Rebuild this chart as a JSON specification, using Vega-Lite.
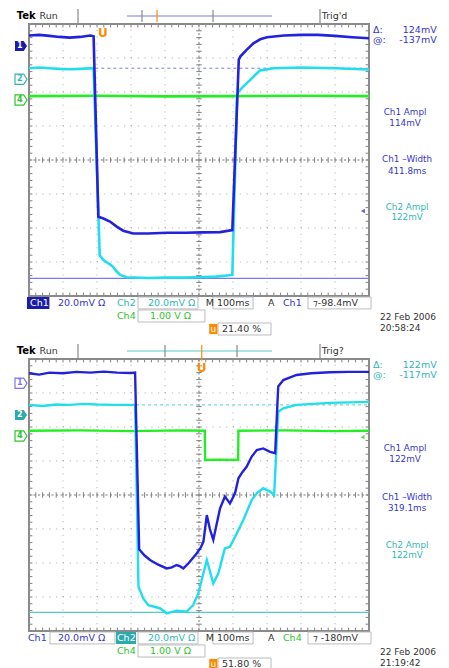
{
"$schema":"https://vega.github.io/schema/vega-lite/v6.json",
"background":"#ffffff",
"padding":0,
"spacing":1,
"bounds":"flush",
"config":{"view":{"stroke":null},"text":{"font":"DejaVu Sans","fontSize":9.5,"baseline":"middle"}},
"datasets":{
"xt":[{"v":0},{"v":0.2},{"v":0.4},{"v":0.6},{"v":0.8},{"v":1},{"v":1.2},{"v":1.4},{"v":1.6},{"v":1.8},{"v":2},{"v":2.2},{"v":2.4},{"v":2.6},{"v":2.8},{"v":3},{"v":3.2},{"v":3.4},{"v":3.6},{"v":3.8},{"v":4},{"v":4.2},{"v":4.4},{"v":4.6},{"v":4.8},{"v":5},{"v":5.2},{"v":5.4},{"v":5.6},{"v":5.8},{"v":6},{"v":6.2},{"v":6.4},{"v":6.6},{"v":6.8},{"v":7},{"v":7.2},{"v":7.4},{"v":7.6},{"v":7.8},{"v":8},{"v":8.2},{"v":8.4},{"v":8.6},{"v":8.8},{"v":9},{"v":9.2},{"v":9.4},{"v":9.6},{"v":9.8},{"v":10}],
"yt":[{"v":-4},{"v":-3.8},{"v":-3.6},{"v":-3.4},{"v":-3.2},{"v":-3},{"v":-2.8},{"v":-2.6},{"v":-2.4},{"v":-2.2},{"v":-2},{"v":-1.8},{"v":-1.6},{"v":-1.4},{"v":-1.2},{"v":-1},{"v":-0.8},{"v":-0.6},{"v":-0.4},{"v":-0.2},{"v":0},{"v":0.2},{"v":0.4},{"v":0.6},{"v":0.8},{"v":1},{"v":1.2},{"v":1.4},{"v":1.6},{"v":1.8},{"v":2},{"v":2.2},{"v":2.4},{"v":2.6},{"v":2.8},{"v":3},{"v":3.2},{"v":3.4},{"v":3.6},{"v":3.8},{"v":4}],
"gx":[{"v":1},{"v":2},{"v":3},{"v":4},{"v":6},{"v":7},{"v":8},{"v":9}],
"gy":[{"v":-3},{"v":-2},{"v":-1},{"v":1},{"v":2},{"v":3}],
"trA":[
{"k":"ch4","x":0,"y":1.88},{"k":"ch4","x":2,"y":1.89},{"k":"ch4","x":4,"y":1.87},{"k":"ch4","x":6,"y":1.88},{"k":"ch4","x":8,"y":1.89},{"k":"ch4","x":10,"y":1.88},
{"k":"ch2","x":0,"y":2.7},{"k":"ch2","x":0.3,"y":2.72},{"k":"ch2","x":0.6,"y":2.7},{"k":"ch2","x":0.9,"y":2.68},{"k":"ch2","x":1.2,"y":2.67},{"k":"ch2","x":1.5,"y":2.68},{"k":"ch2","x":1.9,"y":2.7},{"k":"ch2","x":2.08,"y":-2.8},{"k":"ch2","x":2.19,"y":-2.94},{"k":"ch2","x":2.3,"y":-3.02},{"k":"ch2","x":2.4,"y":-3.08},{"k":"ch2","x":2.48,"y":-3.15},{"k":"ch2","x":2.58,"y":-3.28},{"k":"ch2","x":2.68,"y":-3.38},{"k":"ch2","x":2.87,"y":-3.45},{"k":"ch2","x":3.5,"y":-3.47},{"k":"ch2","x":4.0,"y":-3.46},{"k":"ch2","x":4.5,"y":-3.46},{"k":"ch2","x":5.0,"y":-3.45},{"k":"ch2","x":5.5,"y":-3.43},{"k":"ch2","x":5.98,"y":-3.38},{"k":"ch2","x":6.12,"y":1.9},{"k":"ch2","x":6.16,"y":2.01},{"k":"ch2","x":6.3,"y":2.16},{"k":"ch2","x":6.5,"y":2.35},{"k":"ch2","x":6.65,"y":2.5},{"k":"ch2","x":6.79,"y":2.63},{"k":"ch2","x":7.2,"y":2.7},{"k":"ch2","x":8,"y":2.72},{"k":"ch2","x":9,"y":2.7},{"k":"ch2","x":10,"y":2.66},
{"k":"ch1","x":0,"y":3.66},{"k":"ch1","x":0.3,"y":3.68},{"k":"ch1","x":0.6,"y":3.65},{"k":"ch1","x":0.9,"y":3.62},{"k":"ch1","x":1.2,"y":3.6},{"k":"ch1","x":1.5,"y":3.62},{"k":"ch1","x":1.8,"y":3.66},{"k":"ch1","x":1.9,"y":3.64},{"k":"ch1","x":2.04,"y":-1.67},{"k":"ch1","x":2.19,"y":-1.72},{"k":"ch1","x":2.38,"y":-1.81},{"k":"ch1","x":2.58,"y":-1.96},{"k":"ch1","x":2.77,"y":-2.08},{"k":"ch1","x":3.07,"y":-2.16},{"k":"ch1","x":3.5,"y":-2.16},{"k":"ch1","x":4.05,"y":-2.14},{"k":"ch1","x":4.6,"y":-2.14},{"k":"ch1","x":5.1,"y":-2.13},{"k":"ch1","x":5.62,"y":-2.12},{"k":"ch1","x":5.98,"y":-2.06},{"k":"ch1","x":6.17,"y":2.95},{"k":"ch1","x":6.22,"y":3.05},{"k":"ch1","x":6.4,"y":3.24},{"k":"ch1","x":6.6,"y":3.43},{"k":"ch1","x":6.8,"y":3.55},{"k":"ch1","x":7.0,"y":3.61},{"k":"ch1","x":7.5,"y":3.66},{"k":"ch1","x":8.0,"y":3.68},{"k":"ch1","x":8.5,"y":3.68},{"k":"ch1","x":9.0,"y":3.65},{"k":"ch1","x":9.5,"y":3.61},{"k":"ch1","x":10,"y":3.58}],
"trB":[
{"k":"ch4","x":0,"y":1.89},{"k":"ch4","x":1.5,"y":1.9},{"k":"ch4","x":3,"y":1.88},{"k":"ch4","x":4.5,"y":1.9},{"k":"ch4","x":5.17,"y":1.89},{"k":"ch4","x":5.18,"y":1.03},{"k":"ch4","x":5.6,"y":1.04},{"k":"ch4","x":6.15,"y":1.03},{"k":"ch4","x":6.16,"y":1.89},{"k":"ch4","x":7.5,"y":1.9},{"k":"ch4","x":9,"y":1.88},{"k":"ch4","x":10,"y":1.89},
{"k":"ch2","x":0,"y":2.65},{"k":"ch2","x":0.4,"y":2.62},{"k":"ch2","x":0.8,"y":2.66},{"k":"ch2","x":1.2,"y":2.65},{"k":"ch2","x":1.6,"y":2.68},{"k":"ch2","x":2.0,"y":2.66},{"k":"ch2","x":2.5,"y":2.65},{"k":"ch2","x":3.12,"y":2.65},{"k":"ch2","x":3.22,"y":-2.7},{"k":"ch2","x":3.36,"y":-3.04},{"k":"ch2","x":3.51,"y":-3.24},{"k":"ch2","x":3.85,"y":-3.33},{"k":"ch2","x":4.05,"y":-3.48},{"k":"ch2","x":4.34,"y":-3.4},{"k":"ch2","x":4.64,"y":-3.43},{"k":"ch2","x":4.83,"y":-3.24},{"k":"ch2","x":4.98,"y":-2.89},{"k":"ch2","x":5.08,"y":-2.5},{"k":"ch2","x":5.23,"y":-1.91},{"k":"ch2","x":5.42,"y":-2.6},{"k":"ch2","x":5.57,"y":-2.3},{"k":"ch2","x":5.76,"y":-1.57},{"k":"ch2","x":5.91,"y":-1.52},{"k":"ch2","x":6.11,"y":-1.13},{"k":"ch2","x":6.3,"y":-0.74},{"k":"ch2","x":6.55,"y":-0.15},{"k":"ch2","x":6.7,"y":0.05},{"k":"ch2","x":6.89,"y":0.2},{"k":"ch2","x":7.09,"y":0.1},{"k":"ch2","x":7.21,"y":0.0},{"k":"ch2","x":7.33,"y":2.45},{"k":"ch2","x":7.48,"y":2.55},{"k":"ch2","x":7.87,"y":2.65},{"k":"ch2","x":8.85,"y":2.71},{"k":"ch2","x":10,"y":2.74},
{"k":"ch1","x":0,"y":3.58},{"k":"ch1","x":0.3,"y":3.54},{"k":"ch1","x":0.6,"y":3.6},{"k":"ch1","x":1.0,"y":3.58},{"k":"ch1","x":1.4,"y":3.62},{"k":"ch1","x":1.8,"y":3.6},{"k":"ch1","x":2.2,"y":3.63},{"k":"ch1","x":2.6,"y":3.6},{"k":"ch1","x":3.0,"y":3.59},{"k":"ch1","x":3.12,"y":3.6},{"k":"ch1","x":3.24,"y":-1.6},{"k":"ch1","x":3.4,"y":-1.78},{"k":"ch1","x":3.56,"y":-1.91},{"k":"ch1","x":3.8,"y":-2.05},{"k":"ch1","x":4.05,"y":-2.16},{"k":"ch1","x":4.2,"y":-2.13},{"k":"ch1","x":4.34,"y":-2.06},{"k":"ch1","x":4.45,"y":-2.1},{"k":"ch1","x":4.54,"y":-2.16},{"k":"ch1","x":4.7,"y":-2.0},{"k":"ch1","x":4.93,"y":-1.72},{"k":"ch1","x":5.05,"y":-1.55},{"k":"ch1","x":5.13,"y":-1.37},{"k":"ch1","x":5.23,"y":-0.59},{"k":"ch1","x":5.32,"y":-1.0},{"k":"ch1","x":5.42,"y":-1.32},{"k":"ch1","x":5.52,"y":-0.85},{"k":"ch1","x":5.62,"y":-0.39},{"k":"ch1","x":5.76,"y":-0.05},{"k":"ch1","x":5.84,"y":-0.15},{"k":"ch1","x":5.91,"y":-0.25},{"k":"ch1","x":6.06,"y":0.05},{"k":"ch1","x":6.16,"y":0.49},{"k":"ch1","x":6.28,"y":0.68},{"k":"ch1","x":6.4,"y":0.83},{"k":"ch1","x":6.55,"y":1.13},{"k":"ch1","x":6.7,"y":1.32},{"k":"ch1","x":6.89,"y":1.37},{"k":"ch1","x":7.09,"y":1.27},{"k":"ch1","x":7.24,"y":1.23},{"k":"ch1","x":7.33,"y":3.19},{"k":"ch1","x":7.48,"y":3.38},{"k":"ch1","x":7.87,"y":3.53},{"k":"ch1","x":8.3,"y":3.58},{"k":"ch1","x":8.85,"y":3.61},{"k":"ch1","x":9.4,"y":3.62},{"k":"ch1","x":10,"y":3.62}],
"curA":[{"x":1.95,"x2":10,"y":2.7,"y2":2.7,"k":"cur1"}],
"curB":[{"x":3.15,"x2":10,"y":2.65,"y2":2.65,"k":"cur2"}],
"segA":[{"x":0,"x2":10,"y":-3.48,"y2":-3.48,"k":"cur1"},{"x":2.882,"x2":7.147,"y":4.235,"y2":4.235,"k":"cur1"},{"x":3.324,"x2":3.324,"y":4.41,"y2":4.06,"k":"gray"},{"x":5.412,"x2":5.412,"y":4.41,"y2":4.06,"k":"gray"},{"x":1.441,"x2":1.441,"y":4.44,"y2":4.03,"k":"gray"},{"x":8.559,"x2":8.559,"y":4.44,"y2":4.03,"k":"gray"},{"x":3.765,"x2":3.765,"y":4.41,"y2":4.06,"k":"org"}],
"segB":[{"x":0,"x2":10,"y":-3.45,"y2":-3.45,"k":"cur2"},{"x":2.882,"x2":7.147,"y":4.235,"y2":4.235,"k":"cur2"},{"x":4.0,"x2":4.0,"y":4.41,"y2":4.06,"k":"gray"},{"x":6.118,"x2":6.118,"y":4.41,"y2":4.06,"k":"gray"},{"x":1.441,"x2":1.441,"y":4.44,"y2":4.03,"k":"gray"},{"x":8.559,"x2":8.559,"y":4.44,"y2":4.03,"k":"gray"},{"x":5.08,"x2":5.08,"y":4.41,"y2":3.95,"k":"org"}],
"tinyA":[{"x":9.82,"y":-1.5,"k":"ch1"}],
"tinyB":[{"x":9.81,"y":1.7,"k":"c4t"}],
"boxA":[{"x":-0.06,"x2":0.6,"y":-4.03,"y2":-4.38,"k":"c1f","f":"y"},{"x":3.206,"x2":4.97,"y":-4.03,"y2":-4.38,"k":"lg","f":"n"},{"x":5.41,"x2":6.59,"y":-4.03,"y2":-4.38,"k":"lg","f":"n"},{"x":8.206,"x2":10.06,"y":-4.03,"y2":-4.38,"k":"lg","f":"n"},{"x":3.206,"x2":5.176,"y":-4.41,"y2":-4.765,"k":"lg","f":"n"},{"x":5.559,"x2":7.118,"y":-4.794,"y2":-5.147,"k":"lg","f":"n"},{"x":5.3,"x2":5.54,"y":-4.82,"y2":-5.12,"k":"org","f":"y"}],
"boxB":[{"x":0.618,"x2":2.53,"y":-4.03,"y2":-4.38,"k":"lg","f":"n"},{"x":2.56,"x2":3.147,"y":-4.03,"y2":-4.38,"k":"c2f","f":"y"},{"x":3.206,"x2":4.97,"y":-4.03,"y2":-4.38,"k":"lg","f":"n"},{"x":5.41,"x2":6.59,"y":-4.03,"y2":-4.38,"k":"lg","f":"n"},{"x":8.206,"x2":10.06,"y":-4.03,"y2":-4.38,"k":"lg","f":"n"},{"x":3.206,"x2":5.176,"y":-4.41,"y2":-4.765,"k":"lg","f":"n"},{"x":5.559,"x2":7.118,"y":-4.794,"y2":-5.147,"k":"lg","f":"n"},{"x":5.3,"x2":5.54,"y":-4.82,"y2":-5.12,"k":"org","f":"y"}],
"mkA":[{"t":"1","y":3.353,"k":"c1f","f":"y"},{"t":"2","y":2.374,"k":"c2t","f":"n"},{"t":"4","y":1.765,"k":"c4t","f":"n"}],
"mkB":[{"t":"1","y":3.285,"k":"cur1","f":"n"},{"t":"2","y":2.353,"k":"c2f","f":"y"},{"t":"4","y":1.735,"k":"c4t","f":"n"}],
"labA":[{"t":"Tek","x":-0.36,"y":4.235,"k":"blk","r":"B"},{"t":"Run","x":0.31,"y":4.235,"k":"sys","r":"L"},{"t":"Trig'd","x":8.61,"y":4.235,"k":"sys","r":"L"},{"t":"U","x":2.17,"y":3.73,"k":"org","r":"U"},{"t":"Δ:","x":10.12,"y":3.824,"k":"c1t","r":"L"},{"t":"124mV","x":11.99,"y":3.824,"k":"c1t","r":"R"},{"t":"@:","x":10.12,"y":3.529,"k":"c1t","r":"L"},{"t":"-137mV","x":11.99,"y":3.529,"k":"c1t","r":"R"},{"t":"Ch1 Ampl","x":11.06,"y":1.412,"k":"c1t","r":"C"},{"t":"114mV","x":11.06,"y":1.088,"k":"c1t","r":"C"},{"t":"Ch1 –Width","x":11.12,"y":0.015,"k":"c1t","r":"C"},{"t":"411.8ms","x":11.12,"y":-0.309,"k":"c1t","r":"C"},{"t":"Ch2 Ampl","x":11.12,"y":-1.368,"k":"c2t","r":"C"},{"t":"122mV","x":11.12,"y":-1.691,"k":"c2t","r":"C"},{"t":"Ch1","x":0.03,"y":-4.206,"k":"wht","r":"L"},{"t":"20.0mV Ω","x":0.853,"y":-4.206,"k":"c1t","r":"L"},{"t":"Ch2","x":2.588,"y":-4.206,"k":"c2t","r":"L"},{"t":"20.0mV Ω","x":3.5,"y":-4.206,"k":"c2t","r":"L"},{"t":"M","x":5.2,"y":-4.206,"k":"sys","r":"L"},{"t":"100ms","x":5.53,"y":-4.206,"k":"sys","r":"L"},{"t":"A","x":7.03,"y":-4.206,"k":"sys","r":"L"},{"t":"Ch1","x":7.47,"y":-4.206,"k":"c1t","r":"L"},{"t":"⁊-98.4mV","x":8.353,"y":-4.206,"k":"sys","r":"L"},{"t":"Ch4","x":2.588,"y":-4.588,"k":"c4t","r":"L"},{"t":"1.00 V Ω","x":3.559,"y":-4.588,"k":"c4t","r":"L"},{"t":"u","x":5.42,"y":-4.97,"k":"wht","r":"C"},{"t":"21.40 %","x":5.676,"y":-4.97,"k":"sys","r":"L"},{"t":"22 Feb  2006","x":10.324,"y":-4.618,"k":"sys","r":"S"},{"t":"20:58:24","x":10.324,"y":-4.941,"k":"sys","r":"S"}],
"labB":[{"t":"Tek","x":-0.36,"y":4.235,"k":"blk","r":"B"},{"t":"Run","x":0.31,"y":4.235,"k":"sys","r":"L"},{"t":"Trig?","x":8.61,"y":4.235,"k":"sys","r":"L"},{"t":"U","x":5.08,"y":3.73,"k":"org","r":"U"},{"t":"Δ:","x":10.12,"y":3.824,"k":"c2t","r":"L"},{"t":"122mV","x":11.99,"y":3.824,"k":"c2t","r":"R"},{"t":"@:","x":10.12,"y":3.529,"k":"c2t","r":"L"},{"t":"-117mV","x":11.99,"y":3.529,"k":"c2t","r":"R"},{"t":"Ch1 Ampl","x":11.06,"y":1.382,"k":"c1t","r":"C"},{"t":"122mV","x":11.06,"y":1.059,"k":"c1t","r":"C"},{"t":"Ch1 –Width","x":11.12,"y":-0.059,"k":"c1t","r":"C"},{"t":"319.1ms","x":11.12,"y":-0.382,"k":"c1t","r":"C"},{"t":"Ch2 Ampl","x":11.12,"y":-1.456,"k":"c2t","r":"C"},{"t":"122mV","x":11.12,"y":-1.779,"k":"c2t","r":"C"},{"t":"Ch1","x":-0.03,"y":-4.206,"k":"c1t","r":"L"},{"t":"20.0mV Ω","x":0.853,"y":-4.206,"k":"c1t","r":"L"},{"t":"Ch2","x":2.588,"y":-4.206,"k":"wht","r":"L"},{"t":"20.0mV Ω","x":3.5,"y":-4.206,"k":"c2t","r":"L"},{"t":"M","x":5.2,"y":-4.206,"k":"sys","r":"L"},{"t":"100ms","x":5.53,"y":-4.206,"k":"sys","r":"L"},{"t":"A","x":7.03,"y":-4.206,"k":"sys","r":"L"},{"t":"Ch4","x":7.47,"y":-4.206,"k":"c4t","r":"L"},{"t":"⁊ -180mV","x":8.353,"y":-4.206,"k":"sys","r":"L"},{"t":"Ch4","x":2.588,"y":-4.588,"k":"c4t","r":"L"},{"t":"1.00 V Ω","x":3.559,"y":-4.588,"k":"c4t","r":"L"},{"t":"u","x":5.42,"y":-4.97,"k":"wht","r":"C"},{"t":"51.80 %","x":5.676,"y":-4.97,"k":"sys","r":"L"},{"t":"22 Feb  2006","x":10.324,"y":-4.618,"k":"sys","r":"S"},{"t":"21:19:42","x":10.324,"y":-4.941,"k":"sys","r":"S"}]
},
"vconcat":[
{"width":449,"height":334,"layer":[
{"data":{"name":"gx"},"mark":{"type":"rule","color":"#a8a8a8","strokeDash":[1,5.8],"strokeWidth":1},"encoding":{"x":{"field":"v","type":"quantitative","scale":{"domain":[-0.8529,12.3529],"nice":false,"zero":false},"axis":null},"y":{"datum":-4,"type":"quantitative","scale":{"domain":[-5.1176,4.7059],"nice":false,"zero":false},"axis":null},"y2":{"datum":4}}},
{"data":{"name":"gy"},"mark":{"type":"rule","color":"#a8a8a8","strokeDash":[1,5.8],"strokeWidth":1},"encoding":{"y":{"field":"v","type":"quantitative","scale":{"domain":[-5.1176,4.7059],"nice":false,"zero":false},"axis":null},"x":{"datum":0,"type":"quantitative","scale":{"domain":[-0.8529,12.3529],"nice":false,"zero":false},"axis":null},"x2":{"datum":10}}},
{"data":{"values":[{}]},"mark":{"type":"rule","color":"#777777","strokeDash":[2,2.5],"strokeWidth":1},"encoding":{"x":{"datum":5,"type":"quantitative","scale":{"domain":[-0.8529,12.3529],"nice":false,"zero":false},"axis":null},"y":{"datum":-4,"type":"quantitative","scale":{"domain":[-5.1176,4.7059],"nice":false,"zero":false},"axis":null},"y2":{"datum":4}}},
{"data":{"values":[{}]},"mark":{"type":"rule","color":"#777777","strokeDash":[2,2.5],"strokeWidth":1},"encoding":{"y":{"datum":0,"type":"quantitative","scale":{"domain":[-5.1176,4.7059],"nice":false,"zero":false},"axis":null},"x":{"datum":0,"type":"quantitative","scale":{"domain":[-0.8529,12.3529],"nice":false,"zero":false},"axis":null},"x2":{"datum":10}}},
{"data":{"name":"xt"},"mark":{"type":"rule","color":"#808080","strokeWidth":1},"encoding":{"x":{"field":"v","type":"quantitative","scale":{"domain":[-0.8529,12.3529],"nice":false,"zero":false},"axis":null},"y":{"datum":-0.08,"type":"quantitative","scale":{"domain":[-5.1176,4.7059],"nice":false,"zero":false},"axis":null},"y2":{"datum":0.08}}},
{"data":{"name":"yt"},"mark":{"type":"rule","color":"#808080","strokeWidth":1},"encoding":{"y":{"field":"v","type":"quantitative","scale":{"domain":[-5.1176,4.7059],"nice":false,"zero":false},"axis":null},"x":{"datum":4.92,"type":"quantitative","scale":{"domain":[-0.8529,12.3529],"nice":false,"zero":false},"axis":null},"x2":{"datum":5.08}}},
{"data":{"name":"xt"},"mark":{"type":"rule","color":"#808080","strokeWidth":1},"encoding":{"x":{"field":"v","type":"quantitative","scale":{"domain":[-0.8529,12.3529],"nice":false,"zero":false},"axis":null},"y":{"datum":4,"type":"quantitative","scale":{"domain":[-5.1176,4.7059],"nice":false,"zero":false},"axis":null},"y2":{"datum":3.9}}},
{"data":{"name":"xt"},"mark":{"type":"rule","color":"#808080","strokeWidth":1},"encoding":{"x":{"field":"v","type":"quantitative","scale":{"domain":[-0.8529,12.3529],"nice":false,"zero":false},"axis":null},"y":{"datum":-4,"type":"quantitative","scale":{"domain":[-5.1176,4.7059],"nice":false,"zero":false},"axis":null},"y2":{"datum":-3.9}}},
{"data":{"name":"yt"},"mark":{"type":"rule","color":"#808080","strokeWidth":1},"encoding":{"y":{"field":"v","type":"quantitative","scale":{"domain":[-5.1176,4.7059],"nice":false,"zero":false},"axis":null},"x":{"datum":0,"type":"quantitative","scale":{"domain":[-0.8529,12.3529],"nice":false,"zero":false},"axis":null},"x2":{"datum":0.1}}},
{"data":{"name":"yt"},"mark":{"type":"rule","color":"#808080","strokeWidth":1},"encoding":{"y":{"field":"v","type":"quantitative","scale":{"domain":[-5.1176,4.7059],"nice":false,"zero":false},"axis":null},"x":{"datum":10,"type":"quantitative","scale":{"domain":[-0.8529,12.3529],"nice":false,"zero":false},"axis":null},"x2":{"datum":9.9}}},
{"data":{"values":[{}]},"mark":{"type":"rect","filled":false,"color":"#8a8a8a","strokeWidth":2},"encoding":{"x":{"datum":0,"type":"quantitative","scale":{"domain":[-0.8529,12.3529],"nice":false,"zero":false},"axis":null},"x2":{"datum":10},"y":{"datum":-4,"type":"quantitative","scale":{"domain":[-5.1176,4.7059],"nice":false,"zero":false},"axis":null},"y2":{"datum":4}}},
{"data":{"name":"curA"},"mark":{"type":"rule","strokeDash":[3,3],"strokeWidth":1},"encoding":{"x":{"field":"x","type":"quantitative","scale":{"domain":[-0.8529,12.3529],"nice":false,"zero":false},"axis":null},"x2":{"field":"x2"},"y":{"field":"y","type":"quantitative","scale":{"domain":[-5.1176,4.7059],"nice":false,"zero":false},"axis":null},"y2":{"field":"y2"},"color":{"field":"k","type":"nominal","scale":{"domain":["ch1","ch2","ch4","c1t","c2t","c4t","sys","blk","org","wht","cur1","cur2","gray","c1f","c2f","lg"],"range":["#2222dd","#22ddee","#22ee22","#3535cc","#33b5b5","#2ec42e","#333333","#000000","#ff8a00","#ffffff","#7878f0","#55cccc","#888888","#1c1ca8","#2aaaaa","#bbbbbb"]},"legend":null}}},
{"data":{"name":"segA"},"mark":{"type":"rule","strokeWidth":1.2},"encoding":{"x":{"field":"x","type":"quantitative","scale":{"domain":[-0.8529,12.3529],"nice":false,"zero":false},"axis":null},"x2":{"field":"x2"},"y":{"field":"y","type":"quantitative","scale":{"domain":[-5.1176,4.7059],"nice":false,"zero":false},"axis":null},"y2":{"field":"y2"},"color":{"field":"k","type":"nominal","scale":{"domain":["ch1","ch2","ch4","c1t","c2t","c4t","sys","blk","org","wht","cur1","cur2","gray","c1f","c2f","lg"],"range":["#2222dd","#22ddee","#22ee22","#3535cc","#33b5b5","#2ec42e","#333333","#000000","#ff8a00","#ffffff","#7878f0","#55cccc","#888888","#1c1ca8","#2aaaaa","#bbbbbb"]},"legend":null}}},
{"data":{"name":"trA"},"mark":{"type":"line","strokeWidth":2.6},"encoding":{"x":{"field":"x","type":"quantitative","scale":{"domain":[-0.8529,12.3529],"nice":false,"zero":false},"axis":null},"y":{"field":"y","type":"quantitative","scale":{"domain":[-5.1176,4.7059],"nice":false,"zero":false},"axis":null},"color":{"field":"k","type":"nominal","scale":{"domain":["ch1","ch2","ch4","c1t","c2t","c4t","sys","blk","org","wht","cur1","cur2","gray","c1f","c2f","lg"],"range":["#2222dd","#22ddee","#22ee22","#3535cc","#33b5b5","#2ec42e","#333333","#000000","#ff8a00","#ffffff","#7878f0","#55cccc","#888888","#1c1ca8","#2aaaaa","#bbbbbb"]},"legend":null}}},
{"data":{"name":"tinyA"},"mark":{"type":"point","shape":"triangle-left","size":22,"filled":true},"encoding":{"x":{"field":"x","type":"quantitative","scale":{"domain":[-0.8529,12.3529],"nice":false,"zero":false},"axis":null},"y":{"field":"y","type":"quantitative","scale":{"domain":[-5.1176,4.7059],"nice":false,"zero":false},"axis":null},"color":{"field":"k","type":"nominal","scale":{"domain":["ch1","ch2","ch4","c1t","c2t","c4t","sys","blk","org","wht","cur1","cur2","gray","c1f","c2f","lg"],"range":["#2222dd","#22ddee","#22ee22","#3535cc","#33b5b5","#2ec42e","#333333","#000000","#ff8a00","#ffffff","#7878f0","#55cccc","#888888","#1c1ca8","#2aaaaa","#bbbbbb"]},"legend":null}}},
{"data":{"name":"boxA"},"transform":[{"filter":"datum.f == 'n'"}],"mark":{"type":"rect","filled":false,"strokeWidth":1},"encoding":{"x":{"field":"x","type":"quantitative","scale":{"domain":[-0.8529,12.3529],"nice":false,"zero":false},"axis":null},"x2":{"field":"x2"},"y":{"field":"y","type":"quantitative","scale":{"domain":[-5.1176,4.7059],"nice":false,"zero":false},"axis":null},"y2":{"field":"y2"},"color":{"field":"k","type":"nominal","scale":{"domain":["ch1","ch2","ch4","c1t","c2t","c4t","sys","blk","org","wht","cur1","cur2","gray","c1f","c2f","lg"],"range":["#2222dd","#22ddee","#22ee22","#3535cc","#33b5b5","#2ec42e","#333333","#000000","#ff8a00","#ffffff","#7878f0","#55cccc","#888888","#1c1ca8","#2aaaaa","#bbbbbb"]},"legend":null}}},
{"data":{"name":"boxA"},"transform":[{"filter":"datum.f == 'y'"}],"mark":{"type":"rect","filled":true},"encoding":{"x":{"field":"x","type":"quantitative","scale":{"domain":[-0.8529,12.3529],"nice":false,"zero":false},"axis":null},"x2":{"field":"x2"},"y":{"field":"y","type":"quantitative","scale":{"domain":[-5.1176,4.7059],"nice":false,"zero":false},"axis":null},"y2":{"field":"y2"},"color":{"field":"k","type":"nominal","scale":{"domain":["ch1","ch2","ch4","c1t","c2t","c4t","sys","blk","org","wht","cur1","cur2","gray","c1f","c2f","lg"],"range":["#2222dd","#22ddee","#22ee22","#3535cc","#33b5b5","#2ec42e","#333333","#000000","#ff8a00","#ffffff","#7878f0","#55cccc","#888888","#1c1ca8","#2aaaaa","#bbbbbb"]},"legend":null}}},
{"data":{"name":"mkA"},"transform":[{"filter":"datum.f == 'y'"}],"mark":{"type":"point","shape":"M-1,-0.85L0.45,-0.85L1,0L0.45,0.85L-1,0.85Z","size":144,"filled":true,"opacity":1},"encoding":{"x":{"datum":-0.235,"type":"quantitative","scale":{"domain":[-0.8529,12.3529],"nice":false,"zero":false},"axis":null},"y":{"field":"y","type":"quantitative","scale":{"domain":[-5.1176,4.7059],"nice":false,"zero":false},"axis":null},"color":{"field":"k","type":"nominal","scale":{"domain":["ch1","ch2","ch4","c1t","c2t","c4t","sys","blk","org","wht","cur1","cur2","gray","c1f","c2f","lg"],"range":["#2222dd","#22ddee","#22ee22","#3535cc","#33b5b5","#2ec42e","#333333","#000000","#ff8a00","#ffffff","#7878f0","#55cccc","#888888","#1c1ca8","#2aaaaa","#bbbbbb"]},"legend":null}}},
{"data":{"name":"mkA"},"transform":[{"filter":"datum.f == 'n'"}],"mark":{"type":"point","shape":"M-1,-0.85L0.45,-0.85L1,0L0.45,0.85L-1,0.85Z","size":144,"filled":false,"strokeWidth":1.2,"opacity":1},"encoding":{"x":{"datum":-0.235,"type":"quantitative","scale":{"domain":[-0.8529,12.3529],"nice":false,"zero":false},"axis":null},"y":{"field":"y","type":"quantitative","scale":{"domain":[-5.1176,4.7059],"nice":false,"zero":false},"axis":null},"color":{"field":"k","type":"nominal","scale":{"domain":["ch1","ch2","ch4","c1t","c2t","c4t","sys","blk","org","wht","cur1","cur2","gray","c1f","c2f","lg"],"range":["#2222dd","#22ddee","#22ee22","#3535cc","#33b5b5","#2ec42e","#333333","#000000","#ff8a00","#ffffff","#7878f0","#55cccc","#888888","#1c1ca8","#2aaaaa","#bbbbbb"]},"legend":null}}},
{"data":{"name":"mkA"},"transform":[{"filter":"datum.f == 'y'"}],"mark":{"type":"text","align":"center","fontSize":8,"fontWeight":"bold","color":"#ffffff"},"encoding":{"x":{"datum":-0.27,"type":"quantitative","scale":{"domain":[-0.8529,12.3529],"nice":false,"zero":false},"axis":null},"y":{"field":"y","type":"quantitative","scale":{"domain":[-5.1176,4.7059],"nice":false,"zero":false},"axis":null},"text":{"field":"t"}}},
{"data":{"name":"mkA"},"transform":[{"filter":"datum.f == 'n'"}],"mark":{"type":"text","align":"center","fontSize":8,"fontWeight":"bold"},"encoding":{"x":{"datum":-0.27,"type":"quantitative","scale":{"domain":[-0.8529,12.3529],"nice":false,"zero":false},"axis":null},"y":{"field":"y","type":"quantitative","scale":{"domain":[-5.1176,4.7059],"nice":false,"zero":false},"axis":null},"text":{"field":"t"},"color":{"field":"k","type":"nominal","scale":{"domain":["ch1","ch2","ch4","c1t","c2t","c4t","sys","blk","org","wht","cur1","cur2","gray","c1f","c2f","lg"],"range":["#2222dd","#22ddee","#22ee22","#3535cc","#33b5b5","#2ec42e","#333333","#000000","#ff8a00","#ffffff","#7878f0","#55cccc","#888888","#1c1ca8","#2aaaaa","#bbbbbb"]},"legend":null}}},
{"data":{"name":"labA"},"transform":[{"filter":"datum.r == 'L'"}],"mark":{"type":"text","align":"left"},"encoding":{"x":{"field":"x","type":"quantitative","scale":{"domain":[-0.8529,12.3529],"nice":false,"zero":false},"axis":null},"y":{"field":"y","type":"quantitative","scale":{"domain":[-5.1176,4.7059],"nice":false,"zero":false},"axis":null},"text":{"field":"t"},"color":{"field":"k","type":"nominal","scale":{"domain":["ch1","ch2","ch4","c1t","c2t","c4t","sys","blk","org","wht","cur1","cur2","gray","c1f","c2f","lg"],"range":["#2222dd","#22ddee","#22ee22","#3535cc","#33b5b5","#2ec42e","#333333","#000000","#ff8a00","#ffffff","#7878f0","#55cccc","#888888","#1c1ca8","#2aaaaa","#bbbbbb"]},"legend":null}}},
{"data":{"name":"labA"},"transform":[{"filter":"datum.r == 'S'"}],"mark":{"type":"text","align":"left","fontSize":9},"encoding":{"x":{"field":"x","type":"quantitative","scale":{"domain":[-0.8529,12.3529],"nice":false,"zero":false},"axis":null},"y":{"field":"y","type":"quantitative","scale":{"domain":[-5.1176,4.7059],"nice":false,"zero":false},"axis":null},"text":{"field":"t"},"color":{"field":"k","type":"nominal","scale":{"domain":["ch1","ch2","ch4","c1t","c2t","c4t","sys","blk","org","wht","cur1","cur2","gray","c1f","c2f","lg"],"range":["#2222dd","#22ddee","#22ee22","#3535cc","#33b5b5","#2ec42e","#333333","#000000","#ff8a00","#ffffff","#7878f0","#55cccc","#888888","#1c1ca8","#2aaaaa","#bbbbbb"]},"legend":null}}},
{"data":{"name":"labA"},"transform":[{"filter":"datum.r == 'R'"}],"mark":{"type":"text","align":"right"},"encoding":{"x":{"field":"x","type":"quantitative","scale":{"domain":[-0.8529,12.3529],"nice":false,"zero":false},"axis":null},"y":{"field":"y","type":"quantitative","scale":{"domain":[-5.1176,4.7059],"nice":false,"zero":false},"axis":null},"text":{"field":"t"},"color":{"field":"k","type":"nominal","scale":{"domain":["ch1","ch2","ch4","c1t","c2t","c4t","sys","blk","org","wht","cur1","cur2","gray","c1f","c2f","lg"],"range":["#2222dd","#22ddee","#22ee22","#3535cc","#33b5b5","#2ec42e","#333333","#000000","#ff8a00","#ffffff","#7878f0","#55cccc","#888888","#1c1ca8","#2aaaaa","#bbbbbb"]},"legend":null}}},
{"data":{"name":"labA"},"transform":[{"filter":"datum.r == 'C'"}],"mark":{"type":"text","align":"center","fontSize":8.8},"encoding":{"x":{"field":"x","type":"quantitative","scale":{"domain":[-0.8529,12.3529],"nice":false,"zero":false},"axis":null},"y":{"field":"y","type":"quantitative","scale":{"domain":[-5.1176,4.7059],"nice":false,"zero":false},"axis":null},"text":{"field":"t"},"color":{"field":"k","type":"nominal","scale":{"domain":["ch1","ch2","ch4","c1t","c2t","c4t","sys","blk","org","wht","cur1","cur2","gray","c1f","c2f","lg"],"range":["#2222dd","#22ddee","#22ee22","#3535cc","#33b5b5","#2ec42e","#333333","#000000","#ff8a00","#ffffff","#7878f0","#55cccc","#888888","#1c1ca8","#2aaaaa","#bbbbbb"]},"legend":null}}},
{"data":{"name":"labA"},"transform":[{"filter":"datum.r == 'B'"}],"mark":{"type":"text","align":"left","fontWeight":"bold","fontSize":10},"encoding":{"x":{"field":"x","type":"quantitative","scale":{"domain":[-0.8529,12.3529],"nice":false,"zero":false},"axis":null},"y":{"field":"y","type":"quantitative","scale":{"domain":[-5.1176,4.7059],"nice":false,"zero":false},"axis":null},"text":{"field":"t"},"color":{"field":"k","type":"nominal","scale":{"domain":["ch1","ch2","ch4","c1t","c2t","c4t","sys","blk","org","wht","cur1","cur2","gray","c1f","c2f","lg"],"range":["#2222dd","#22ddee","#22ee22","#3535cc","#33b5b5","#2ec42e","#333333","#000000","#ff8a00","#ffffff","#7878f0","#55cccc","#888888","#1c1ca8","#2aaaaa","#bbbbbb"]},"legend":null}}},
{"data":{"name":"labA"},"transform":[{"filter":"datum.r == 'U'"}],"mark":{"type":"text","align":"center","fontWeight":"bold","fontSize":12},"encoding":{"x":{"field":"x","type":"quantitative","scale":{"domain":[-0.8529,12.3529],"nice":false,"zero":false},"axis":null},"y":{"field":"y","type":"quantitative","scale":{"domain":[-5.1176,4.7059],"nice":false,"zero":false},"axis":null},"text":{"field":"t"},"color":{"field":"k","type":"nominal","scale":{"domain":["ch1","ch2","ch4","c1t","c2t","c4t","sys","blk","org","wht","cur1","cur2","gray","c1f","c2f","lg"],"range":["#2222dd","#22ddee","#22ee22","#3535cc","#33b5b5","#2ec42e","#333333","#000000","#ff8a00","#ffffff","#7878f0","#55cccc","#888888","#1c1ca8","#2aaaaa","#bbbbbb"]},"legend":null}}}
]},
{"width":449,"height":334,"layer":[
{"data":{"name":"gx"},"mark":{"type":"rule","color":"#a8a8a8","strokeDash":[1,5.8],"strokeWidth":1},"encoding":{"x":{"field":"v","type":"quantitative","scale":{"domain":[-0.8529,12.3529],"nice":false,"zero":false},"axis":null},"y":{"datum":-4,"type":"quantitative","scale":{"domain":[-5.1176,4.7059],"nice":false,"zero":false},"axis":null},"y2":{"datum":4}}},
{"data":{"name":"gy"},"mark":{"type":"rule","color":"#a8a8a8","strokeDash":[1,5.8],"strokeWidth":1},"encoding":{"y":{"field":"v","type":"quantitative","scale":{"domain":[-5.1176,4.7059],"nice":false,"zero":false},"axis":null},"x":{"datum":0,"type":"quantitative","scale":{"domain":[-0.8529,12.3529],"nice":false,"zero":false},"axis":null},"x2":{"datum":10}}},
{"data":{"values":[{}]},"mark":{"type":"rule","color":"#777777","strokeDash":[2,2.5],"strokeWidth":1},"encoding":{"x":{"datum":5,"type":"quantitative","scale":{"domain":[-0.8529,12.3529],"nice":false,"zero":false},"axis":null},"y":{"datum":-4,"type":"quantitative","scale":{"domain":[-5.1176,4.7059],"nice":false,"zero":false},"axis":null},"y2":{"datum":4}}},
{"data":{"values":[{}]},"mark":{"type":"rule","color":"#777777","strokeDash":[2,2.5],"strokeWidth":1},"encoding":{"y":{"datum":0,"type":"quantitative","scale":{"domain":[-5.1176,4.7059],"nice":false,"zero":false},"axis":null},"x":{"datum":0,"type":"quantitative","scale":{"domain":[-0.8529,12.3529],"nice":false,"zero":false},"axis":null},"x2":{"datum":10}}},
{"data":{"name":"xt"},"mark":{"type":"rule","color":"#808080","strokeWidth":1},"encoding":{"x":{"field":"v","type":"quantitative","scale":{"domain":[-0.8529,12.3529],"nice":false,"zero":false},"axis":null},"y":{"datum":-0.08,"type":"quantitative","scale":{"domain":[-5.1176,4.7059],"nice":false,"zero":false},"axis":null},"y2":{"datum":0.08}}},
{"data":{"name":"yt"},"mark":{"type":"rule","color":"#808080","strokeWidth":1},"encoding":{"y":{"field":"v","type":"quantitative","scale":{"domain":[-5.1176,4.7059],"nice":false,"zero":false},"axis":null},"x":{"datum":4.92,"type":"quantitative","scale":{"domain":[-0.8529,12.3529],"nice":false,"zero":false},"axis":null},"x2":{"datum":5.08}}},
{"data":{"name":"xt"},"mark":{"type":"rule","color":"#808080","strokeWidth":1},"encoding":{"x":{"field":"v","type":"quantitative","scale":{"domain":[-0.8529,12.3529],"nice":false,"zero":false},"axis":null},"y":{"datum":4,"type":"quantitative","scale":{"domain":[-5.1176,4.7059],"nice":false,"zero":false},"axis":null},"y2":{"datum":3.9}}},
{"data":{"name":"xt"},"mark":{"type":"rule","color":"#808080","strokeWidth":1},"encoding":{"x":{"field":"v","type":"quantitative","scale":{"domain":[-0.8529,12.3529],"nice":false,"zero":false},"axis":null},"y":{"datum":-4,"type":"quantitative","scale":{"domain":[-5.1176,4.7059],"nice":false,"zero":false},"axis":null},"y2":{"datum":-3.9}}},
{"data":{"name":"yt"},"mark":{"type":"rule","color":"#808080","strokeWidth":1},"encoding":{"y":{"field":"v","type":"quantitative","scale":{"domain":[-5.1176,4.7059],"nice":false,"zero":false},"axis":null},"x":{"datum":0,"type":"quantitative","scale":{"domain":[-0.8529,12.3529],"nice":false,"zero":false},"axis":null},"x2":{"datum":0.1}}},
{"data":{"name":"yt"},"mark":{"type":"rule","color":"#808080","strokeWidth":1},"encoding":{"y":{"field":"v","type":"quantitative","scale":{"domain":[-5.1176,4.7059],"nice":false,"zero":false},"axis":null},"x":{"datum":10,"type":"quantitative","scale":{"domain":[-0.8529,12.3529],"nice":false,"zero":false},"axis":null},"x2":{"datum":9.9}}},
{"data":{"values":[{}]},"mark":{"type":"rect","filled":false,"color":"#8a8a8a","strokeWidth":2},"encoding":{"x":{"datum":0,"type":"quantitative","scale":{"domain":[-0.8529,12.3529],"nice":false,"zero":false},"axis":null},"x2":{"datum":10},"y":{"datum":-4,"type":"quantitative","scale":{"domain":[-5.1176,4.7059],"nice":false,"zero":false},"axis":null},"y2":{"datum":4}}},
{"data":{"name":"curB"},"mark":{"type":"rule","strokeDash":[3,3],"strokeWidth":1},"encoding":{"x":{"field":"x","type":"quantitative","scale":{"domain":[-0.8529,12.3529],"nice":false,"zero":false},"axis":null},"x2":{"field":"x2"},"y":{"field":"y","type":"quantitative","scale":{"domain":[-5.1176,4.7059],"nice":false,"zero":false},"axis":null},"y2":{"field":"y2"},"color":{"field":"k","type":"nominal","scale":{"domain":["ch1","ch2","ch4","c1t","c2t","c4t","sys","blk","org","wht","cur1","cur2","gray","c1f","c2f","lg"],"range":["#2222dd","#22ddee","#22ee22","#3535cc","#33b5b5","#2ec42e","#333333","#000000","#ff8a00","#ffffff","#7878f0","#55cccc","#888888","#1c1ca8","#2aaaaa","#bbbbbb"]},"legend":null}}},
{"data":{"name":"segB"},"mark":{"type":"rule","strokeWidth":1.2},"encoding":{"x":{"field":"x","type":"quantitative","scale":{"domain":[-0.8529,12.3529],"nice":false,"zero":false},"axis":null},"x2":{"field":"x2"},"y":{"field":"y","type":"quantitative","scale":{"domain":[-5.1176,4.7059],"nice":false,"zero":false},"axis":null},"y2":{"field":"y2"},"color":{"field":"k","type":"nominal","scale":{"domain":["ch1","ch2","ch4","c1t","c2t","c4t","sys","blk","org","wht","cur1","cur2","gray","c1f","c2f","lg"],"range":["#2222dd","#22ddee","#22ee22","#3535cc","#33b5b5","#2ec42e","#333333","#000000","#ff8a00","#ffffff","#7878f0","#55cccc","#888888","#1c1ca8","#2aaaaa","#bbbbbb"]},"legend":null}}},
{"data":{"name":"trB"},"mark":{"type":"line","strokeWidth":2.4},"encoding":{"x":{"field":"x","type":"quantitative","scale":{"domain":[-0.8529,12.3529],"nice":false,"zero":false},"axis":null},"y":{"field":"y","type":"quantitative","scale":{"domain":[-5.1176,4.7059],"nice":false,"zero":false},"axis":null},"color":{"field":"k","type":"nominal","scale":{"domain":["ch1","ch2","ch4","c1t","c2t","c4t","sys","blk","org","wht","cur1","cur2","gray","c1f","c2f","lg"],"range":["#2222dd","#22ddee","#22ee22","#3535cc","#33b5b5","#2ec42e","#333333","#000000","#ff8a00","#ffffff","#7878f0","#55cccc","#888888","#1c1ca8","#2aaaaa","#bbbbbb"]},"legend":null}}},
{"data":{"name":"tinyB"},"mark":{"type":"point","shape":"triangle-left","size":22,"filled":true},"encoding":{"x":{"field":"x","type":"quantitative","scale":{"domain":[-0.8529,12.3529],"nice":false,"zero":false},"axis":null},"y":{"field":"y","type":"quantitative","scale":{"domain":[-5.1176,4.7059],"nice":false,"zero":false},"axis":null},"color":{"field":"k","type":"nominal","scale":{"domain":["ch1","ch2","ch4","c1t","c2t","c4t","sys","blk","org","wht","cur1","cur2","gray","c1f","c2f","lg"],"range":["#2222dd","#22ddee","#22ee22","#3535cc","#33b5b5","#2ec42e","#333333","#000000","#ff8a00","#ffffff","#7878f0","#55cccc","#888888","#1c1ca8","#2aaaaa","#bbbbbb"]},"legend":null}}},
{"data":{"name":"boxB"},"transform":[{"filter":"datum.f == 'n'"}],"mark":{"type":"rect","filled":false,"strokeWidth":1},"encoding":{"x":{"field":"x","type":"quantitative","scale":{"domain":[-0.8529,12.3529],"nice":false,"zero":false},"axis":null},"x2":{"field":"x2"},"y":{"field":"y","type":"quantitative","scale":{"domain":[-5.1176,4.7059],"nice":false,"zero":false},"axis":null},"y2":{"field":"y2"},"color":{"field":"k","type":"nominal","scale":{"domain":["ch1","ch2","ch4","c1t","c2t","c4t","sys","blk","org","wht","cur1","cur2","gray","c1f","c2f","lg"],"range":["#2222dd","#22ddee","#22ee22","#3535cc","#33b5b5","#2ec42e","#333333","#000000","#ff8a00","#ffffff","#7878f0","#55cccc","#888888","#1c1ca8","#2aaaaa","#bbbbbb"]},"legend":null}}},
{"data":{"name":"boxB"},"transform":[{"filter":"datum.f == 'y'"}],"mark":{"type":"rect","filled":true},"encoding":{"x":{"field":"x","type":"quantitative","scale":{"domain":[-0.8529,12.3529],"nice":false,"zero":false},"axis":null},"x2":{"field":"x2"},"y":{"field":"y","type":"quantitative","scale":{"domain":[-5.1176,4.7059],"nice":false,"zero":false},"axis":null},"y2":{"field":"y2"},"color":{"field":"k","type":"nominal","scale":{"domain":["ch1","ch2","ch4","c1t","c2t","c4t","sys","blk","org","wht","cur1","cur2","gray","c1f","c2f","lg"],"range":["#2222dd","#22ddee","#22ee22","#3535cc","#33b5b5","#2ec42e","#333333","#000000","#ff8a00","#ffffff","#7878f0","#55cccc","#888888","#1c1ca8","#2aaaaa","#bbbbbb"]},"legend":null}}},
{"data":{"name":"mkB"},"transform":[{"filter":"datum.f == 'y'"}],"mark":{"type":"point","shape":"M-1,-0.85L0.45,-0.85L1,0L0.45,0.85L-1,0.85Z","size":144,"filled":true,"opacity":1},"encoding":{"x":{"datum":-0.235,"type":"quantitative","scale":{"domain":[-0.8529,12.3529],"nice":false,"zero":false},"axis":null},"y":{"field":"y","type":"quantitative","scale":{"domain":[-5.1176,4.7059],"nice":false,"zero":false},"axis":null},"color":{"field":"k","type":"nominal","scale":{"domain":["ch1","ch2","ch4","c1t","c2t","c4t","sys","blk","org","wht","cur1","cur2","gray","c1f","c2f","lg"],"range":["#2222dd","#22ddee","#22ee22","#3535cc","#33b5b5","#2ec42e","#333333","#000000","#ff8a00","#ffffff","#7878f0","#55cccc","#888888","#1c1ca8","#2aaaaa","#bbbbbb"]},"legend":null}}},
{"data":{"name":"mkB"},"transform":[{"filter":"datum.f == 'n'"}],"mark":{"type":"point","shape":"M-1,-0.85L0.45,-0.85L1,0L0.45,0.85L-1,0.85Z","size":144,"filled":false,"strokeWidth":1.2,"opacity":1},"encoding":{"x":{"datum":-0.235,"type":"quantitative","scale":{"domain":[-0.8529,12.3529],"nice":false,"zero":false},"axis":null},"y":{"field":"y","type":"quantitative","scale":{"domain":[-5.1176,4.7059],"nice":false,"zero":false},"axis":null},"color":{"field":"k","type":"nominal","scale":{"domain":["ch1","ch2","ch4","c1t","c2t","c4t","sys","blk","org","wht","cur1","cur2","gray","c1f","c2f","lg"],"range":["#2222dd","#22ddee","#22ee22","#3535cc","#33b5b5","#2ec42e","#333333","#000000","#ff8a00","#ffffff","#7878f0","#55cccc","#888888","#1c1ca8","#2aaaaa","#bbbbbb"]},"legend":null}}},
{"data":{"name":"mkB"},"transform":[{"filter":"datum.f == 'y'"}],"mark":{"type":"text","align":"center","fontSize":8,"fontWeight":"bold","color":"#ffffff"},"encoding":{"x":{"datum":-0.27,"type":"quantitative","scale":{"domain":[-0.8529,12.3529],"nice":false,"zero":false},"axis":null},"y":{"field":"y","type":"quantitative","scale":{"domain":[-5.1176,4.7059],"nice":false,"zero":false},"axis":null},"text":{"field":"t"}}},
{"data":{"name":"mkB"},"transform":[{"filter":"datum.f == 'n'"}],"mark":{"type":"text","align":"center","fontSize":8,"fontWeight":"bold"},"encoding":{"x":{"datum":-0.27,"type":"quantitative","scale":{"domain":[-0.8529,12.3529],"nice":false,"zero":false},"axis":null},"y":{"field":"y","type":"quantitative","scale":{"domain":[-5.1176,4.7059],"nice":false,"zero":false},"axis":null},"text":{"field":"t"},"color":{"field":"k","type":"nominal","scale":{"domain":["ch1","ch2","ch4","c1t","c2t","c4t","sys","blk","org","wht","cur1","cur2","gray","c1f","c2f","lg"],"range":["#2222dd","#22ddee","#22ee22","#3535cc","#33b5b5","#2ec42e","#333333","#000000","#ff8a00","#ffffff","#7878f0","#55cccc","#888888","#1c1ca8","#2aaaaa","#bbbbbb"]},"legend":null}}},
{"data":{"name":"labB"},"transform":[{"filter":"datum.r == 'L'"}],"mark":{"type":"text","align":"left"},"encoding":{"x":{"field":"x","type":"quantitative","scale":{"domain":[-0.8529,12.3529],"nice":false,"zero":false},"axis":null},"y":{"field":"y","type":"quantitative","scale":{"domain":[-5.1176,4.7059],"nice":false,"zero":false},"axis":null},"text":{"field":"t"},"color":{"field":"k","type":"nominal","scale":{"domain":["ch1","ch2","ch4","c1t","c2t","c4t","sys","blk","org","wht","cur1","cur2","gray","c1f","c2f","lg"],"range":["#2222dd","#22ddee","#22ee22","#3535cc","#33b5b5","#2ec42e","#333333","#000000","#ff8a00","#ffffff","#7878f0","#55cccc","#888888","#1c1ca8","#2aaaaa","#bbbbbb"]},"legend":null}}},
{"data":{"name":"labB"},"transform":[{"filter":"datum.r == 'S'"}],"mark":{"type":"text","align":"left","fontSize":9},"encoding":{"x":{"field":"x","type":"quantitative","scale":{"domain":[-0.8529,12.3529],"nice":false,"zero":false},"axis":null},"y":{"field":"y","type":"quantitative","scale":{"domain":[-5.1176,4.7059],"nice":false,"zero":false},"axis":null},"text":{"field":"t"},"color":{"field":"k","type":"nominal","scale":{"domain":["ch1","ch2","ch4","c1t","c2t","c4t","sys","blk","org","wht","cur1","cur2","gray","c1f","c2f","lg"],"range":["#2222dd","#22ddee","#22ee22","#3535cc","#33b5b5","#2ec42e","#333333","#000000","#ff8a00","#ffffff","#7878f0","#55cccc","#888888","#1c1ca8","#2aaaaa","#bbbbbb"]},"legend":null}}},
{"data":{"name":"labB"},"transform":[{"filter":"datum.r == 'R'"}],"mark":{"type":"text","align":"right"},"encoding":{"x":{"field":"x","type":"quantitative","scale":{"domain":[-0.8529,12.3529],"nice":false,"zero":false},"axis":null},"y":{"field":"y","type":"quantitative","scale":{"domain":[-5.1176,4.7059],"nice":false,"zero":false},"axis":null},"text":{"field":"t"},"color":{"field":"k","type":"nominal","scale":{"domain":["ch1","ch2","ch4","c1t","c2t","c4t","sys","blk","org","wht","cur1","cur2","gray","c1f","c2f","lg"],"range":["#2222dd","#22ddee","#22ee22","#3535cc","#33b5b5","#2ec42e","#333333","#000000","#ff8a00","#ffffff","#7878f0","#55cccc","#888888","#1c1ca8","#2aaaaa","#bbbbbb"]},"legend":null}}},
{"data":{"name":"labB"},"transform":[{"filter":"datum.r == 'C'"}],"mark":{"type":"text","align":"center","fontSize":8.8},"encoding":{"x":{"field":"x","type":"quantitative","scale":{"domain":[-0.8529,12.3529],"nice":false,"zero":false},"axis":null},"y":{"field":"y","type":"quantitative","scale":{"domain":[-5.1176,4.7059],"nice":false,"zero":false},"axis":null},"text":{"field":"t"},"color":{"field":"k","type":"nominal","scale":{"domain":["ch1","ch2","ch4","c1t","c2t","c4t","sys","blk","org","wht","cur1","cur2","gray","c1f","c2f","lg"],"range":["#2222dd","#22ddee","#22ee22","#3535cc","#33b5b5","#2ec42e","#333333","#000000","#ff8a00","#ffffff","#7878f0","#55cccc","#888888","#1c1ca8","#2aaaaa","#bbbbbb"]},"legend":null}}},
{"data":{"name":"labB"},"transform":[{"filter":"datum.r == 'B'"}],"mark":{"type":"text","align":"left","fontWeight":"bold","fontSize":10},"encoding":{"x":{"field":"x","type":"quantitative","scale":{"domain":[-0.8529,12.3529],"nice":false,"zero":false},"axis":null},"y":{"field":"y","type":"quantitative","scale":{"domain":[-5.1176,4.7059],"nice":false,"zero":false},"axis":null},"text":{"field":"t"},"color":{"field":"k","type":"nominal","scale":{"domain":["ch1","ch2","ch4","c1t","c2t","c4t","sys","blk","org","wht","cur1","cur2","gray","c1f","c2f","lg"],"range":["#2222dd","#22ddee","#22ee22","#3535cc","#33b5b5","#2ec42e","#333333","#000000","#ff8a00","#ffffff","#7878f0","#55cccc","#888888","#1c1ca8","#2aaaaa","#bbbbbb"]},"legend":null}}},
{"data":{"name":"labB"},"transform":[{"filter":"datum.r == 'U'"}],"mark":{"type":"text","align":"center","fontWeight":"bold","fontSize":12},"encoding":{"x":{"field":"x","type":"quantitative","scale":{"domain":[-0.8529,12.3529],"nice":false,"zero":false},"axis":null},"y":{"field":"y","type":"quantitative","scale":{"domain":[-5.1176,4.7059],"nice":false,"zero":false},"axis":null},"text":{"field":"t"},"color":{"field":"k","type":"nominal","scale":{"domain":["ch1","ch2","ch4","c1t","c2t","c4t","sys","blk","org","wht","cur1","cur2","gray","c1f","c2f","lg"],"range":["#2222dd","#22ddee","#22ee22","#3535cc","#33b5b5","#2ec42e","#333333","#000000","#ff8a00","#ffffff","#7878f0","#55cccc","#888888","#1c1ca8","#2aaaaa","#bbbbbb"]},"legend":null}}}
]}
]
}
